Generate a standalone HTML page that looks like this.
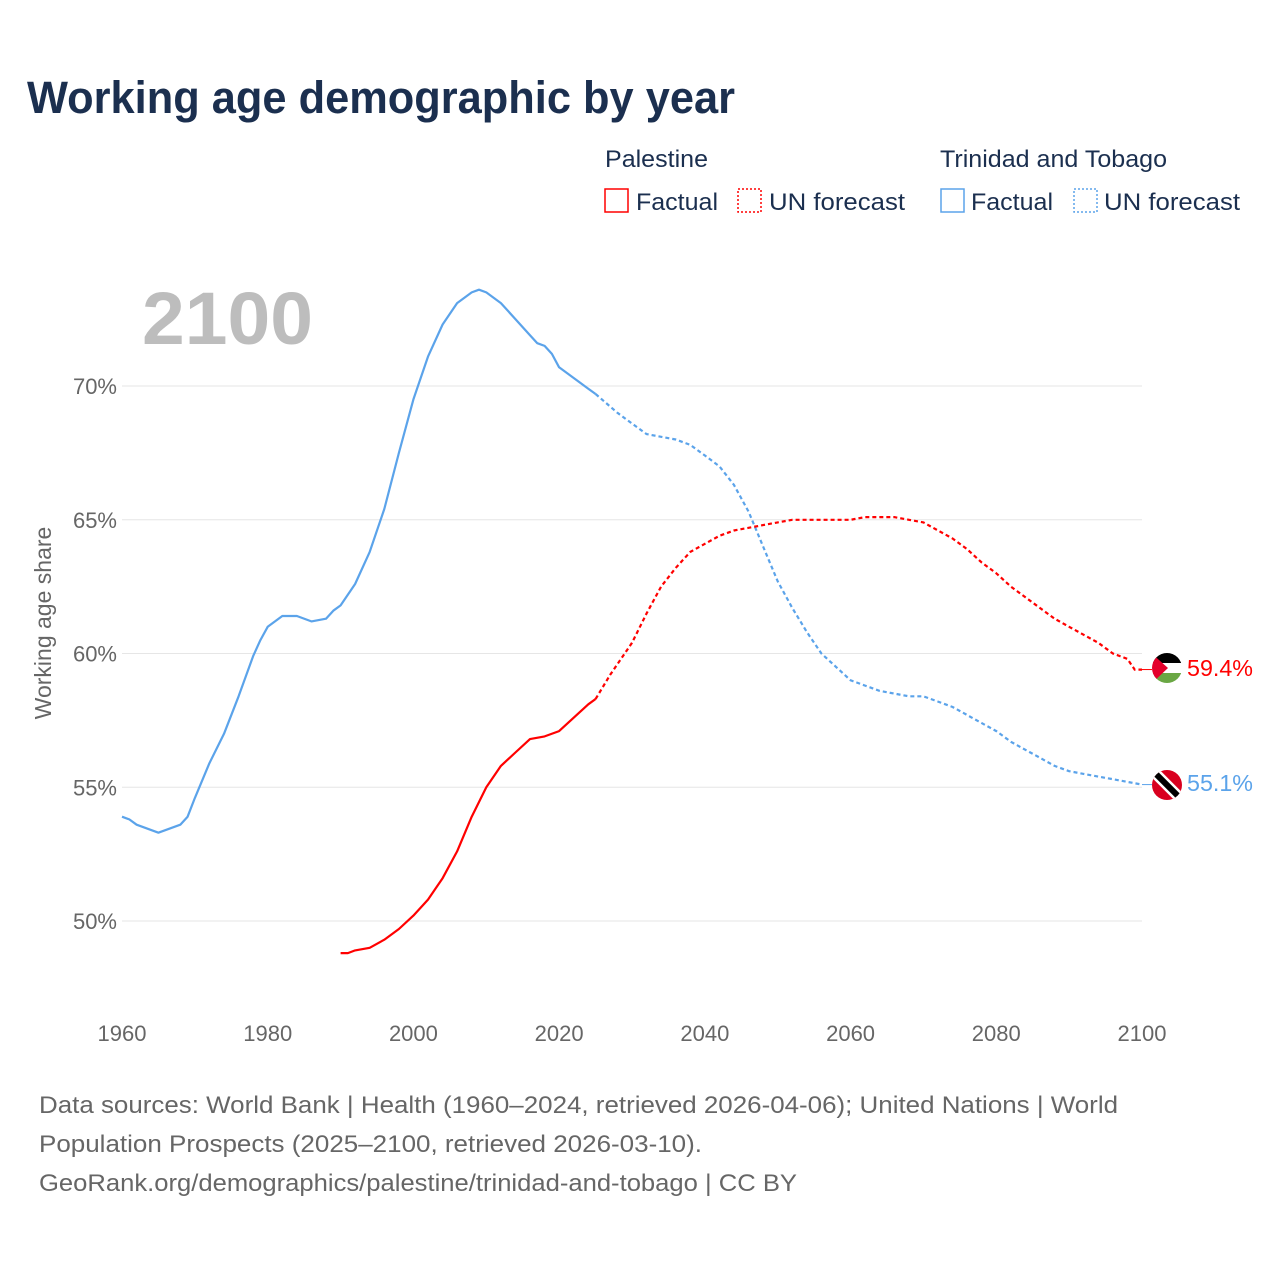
<!DOCTYPE html>
<html><head><meta charset="utf-8">
<style>
body{margin:0;background:#fff;font-family:"Liberation Sans",sans-serif;}
svg text{font-family:"Liberation Sans",sans-serif;}
</style></head>
<body>
<svg width="1280" height="1280" viewBox="0 0 1280 1280">
<text x="27" y="113" font-size="45" font-weight="bold" fill="#1b2f4f" textLength="708" lengthAdjust="spacingAndGlyphs">Working age demographic by year</text>
<g>
<text x="605" y="167" font-size="24" fill="#1b2f4f" textLength="103" lengthAdjust="spacingAndGlyphs">Palestine</text>
<rect x="605" y="189" width="23" height="23" fill="none" stroke="#f00" stroke-width="1.5"/>
<text x="636" y="210" font-size="24" fill="#1b2f4f" textLength="82" lengthAdjust="spacingAndGlyphs">Factual</text>
<rect x="738" y="189" width="23" height="23" fill="none" stroke="#f00" stroke-width="1.5" stroke-dasharray="2,2"/>
<text x="769" y="210" font-size="24" fill="#1b2f4f" textLength="136" lengthAdjust="spacingAndGlyphs">UN forecast</text>
<text x="940" y="167" font-size="24" fill="#1b2f4f" textLength="227" lengthAdjust="spacingAndGlyphs">Trinidad and Tobago</text>
<rect x="941" y="189" width="23" height="23" fill="none" stroke="#5ba3ea" stroke-width="1.5"/>
<text x="971" y="210" font-size="24" fill="#1b2f4f" textLength="82" lengthAdjust="spacingAndGlyphs">Factual</text>
<rect x="1074" y="189" width="23" height="23" fill="none" stroke="#5ba3ea" stroke-width="1.5" stroke-dasharray="2,2"/>
<text x="1104" y="210" font-size="24" fill="#1b2f4f" textLength="136" lengthAdjust="spacingAndGlyphs">UN forecast</text>
</g>
<text x="142" y="344" font-size="74" font-weight="bold" fill="#bdbdbd" textLength="171" lengthAdjust="spacingAndGlyphs">2100</text>
<text transform="translate(51,623) rotate(-90)" text-anchor="middle" font-size="23" fill="#666">Working age share</text>
<g id="grid"></g><g id="series"></g>
<g>
<clipPath id="cp1"><circle cx="1167" cy="668" r="15"/></clipPath>
<g clip-path="url(#cp1)"><rect x="1150" y="652" width="34" height="11" fill="#000"/><rect x="1150" y="663" width="34" height="10" fill="#fff"/><rect x="1150" y="673" width="34" height="12" fill="#6aa744"/><polygon points="1150,652 1168,668 1150,685" fill="#e4002b"/></g>
</g>
<g>
<clipPath id="cp2"><circle cx="1167" cy="785" r="15"/></clipPath>
<g clip-path="url(#cp2)"><rect x="1150" y="768" width="34" height="34" fill="#d9001f"/><line x1="1152" y1="770" x2="1182" y2="800" stroke="#fff" stroke-width="11"/><line x1="1152" y1="770" x2="1182" y2="800" stroke="#000" stroke-width="6"/></g>
</g>
<text x="1187" y="676" font-size="23" fill="#f00" textLength="66" lengthAdjust="spacingAndGlyphs">59.4%</text>
<text x="1187" y="791" font-size="23" fill="#5ba3ea" textLength="66" lengthAdjust="spacingAndGlyphs">55.1%</text>
<g font-size="24" fill="#666">
<text x="39" y="1113" textLength="1079" lengthAdjust="spacingAndGlyphs">Data sources: World Bank | Health (1960–2024, retrieved 2026-04-06); United Nations | World</text>
<text x="39" y="1152" textLength="663" lengthAdjust="spacingAndGlyphs">Population Prospects (2025–2100, retrieved 2026-03-10).</text>
<text x="39" y="1191" textLength="758" lengthAdjust="spacingAndGlyphs">GeoRank.org/demographics/palestine/trinidad-and-tobago | CC BY</text>
</g>
</svg>
<script>
const yTicks=[50,55,60,65,70];
const xTicks=[1960,1980,2000,2020,2040,2060,2080,2100];
const ttYears=[1960,1961,1962,1965,1968,1969,1970,1972,1974,1976,1978,1979,1980,1982,1984,1986,1988,1989,1990,1992,1994,1996,1998,2000,2002,2004,2006,2008,2009,2010,2012,2014,2016,2017,2018,2019,2020,2022,2024,2025,2028,2030,2032,2034,2036,2038,2040,2042,2044,2046,2048,2050,2052,2054,2056,2058,2060,2062,2064,2066,2068,2070,2072,2074,2076,2078,2080,2082,2084,2086,2088,2090,2092,2094,2096,2098,2100];
const ttValues=[53.9,53.8,53.6,53.3,53.6,53.9,54.6,55.9,57.0,58.4,59.9,60.5,61.0,61.4,61.4,61.2,61.3,61.6,61.8,62.6,63.8,65.4,67.5,69.5,71.1,72.3,73.1,73.5,73.6,73.5,73.1,72.5,71.9,71.6,71.5,71.2,70.7,70.3,69.9,69.7,69.0,68.6,68.2,68.1,68.0,67.8,67.4,67.0,66.3,65.3,64.0,62.7,61.7,60.8,60.0,59.5,59.0,58.8,58.6,58.5,58.4,58.4,58.2,58.0,57.7,57.4,57.1,56.7,56.4,56.1,55.8,55.6,55.5,55.4,55.3,55.2,55.1];
const psYears=[1990,1991,1992,1994,1996,1998,2000,2002,2004,2006,2008,2010,2012,2014,2016,2018,2020,2022,2024,2025,2027,2030,2032,2034,2036,2038,2040,2042,2044,2046,2048,2050,2052,2056,2060,2062,2066,2068,2070,2072,2074,2076,2078,2080,2082,2084,2086,2088,2090,2092,2094,2096,2098,2099,2100];
const psValues=[48.8,48.8,48.9,49.0,49.3,49.7,50.2,50.8,51.6,52.6,53.9,55.0,55.8,56.3,56.8,56.9,57.1,57.6,58.1,58.3,59.2,60.4,61.5,62.5,63.2,63.8,64.1,64.4,64.6,64.7,64.8,64.9,65.0,65.0,65.0,65.1,65.1,65.0,64.9,64.6,64.3,63.9,63.4,63.0,62.5,62.1,61.7,61.3,61.0,60.7,60.4,60.0,59.8,59.4,59.4];
const forecastStart=2025;
const NS='http://www.w3.org/2000/svg';
const X=y=>122+(y-1960)*(1020/140);
const Y=v=>921-(v-50)*26.75;
const grid=document.getElementById('grid'),ser=document.getElementById('series');
function mk(t,a,p){const e=document.createElementNS(NS,t);for(const k in a)e.setAttribute(k,a[k]);p.appendChild(e);return e;}
yTicks.forEach(v=>{
 const l=mk('line',{x1:122,x2:1142,y1:Y(v),y2:Y(v),stroke:'#e6e6e6','stroke-width':1},grid);
 
 
 const t=mk('text',{x:117,y:Y(v)+8,'text-anchor':'end','font-size':22,fill:'#666'},grid);t.textContent=v+'%';
 
 
});
xTicks.forEach(y=>{
 const t=mk('text',{x:X(y),y:1041,'text-anchor':'middle','font-size':22,fill:'#666'},grid);t.textContent=y;
 
 
});
function draw(years,vals,color,name){
 const f=[],c=[];
 years.forEach((y,i)=>{const p=X(y).toFixed(1)+','+Y(vals[i]).toFixed(1);if(y<=forecastStart)f.push(p);if(y>=forecastStart)c.push(p);});
 const a=mk('polyline',{points:f.join(' '),fill:'none',stroke:color,'stroke-width':2.2,'stroke-linejoin':'round'},ser);
 
 
 const b=mk('polyline',{points:c.join(' '),fill:'none',stroke:color,'stroke-width':2.2,'stroke-dasharray':'4,3'},ser);
 
 
 const last=vals[vals.length-1];
 const d=mk('line',{x1:X(years[years.length-1]),x2:1152,y1:Y(last),y2:Y(last),stroke:color,'stroke-width':1},ser);
 
 
}
draw(ttYears,ttValues,'#5ba3ea','trinidad');
draw(psYears,psValues,'#f00','palestine');
</script>
</body></html>
